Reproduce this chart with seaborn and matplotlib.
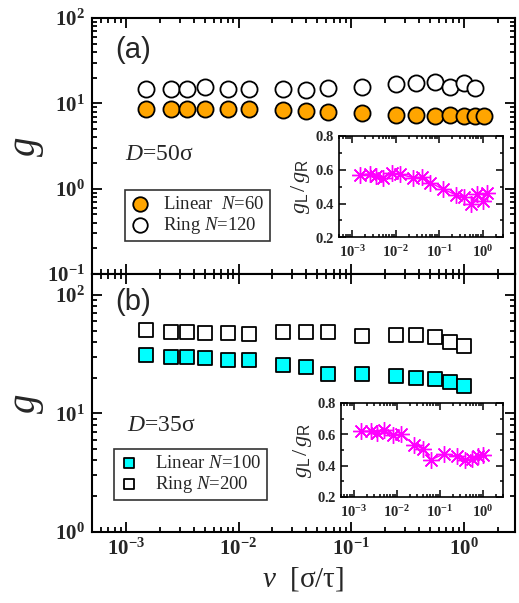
import numpy as np
import pandas as pd
import matplotlib
matplotlib.use("Agg")
import matplotlib.pyplot as plt
import seaborn as sns
from matplotlib.ticker import LogLocator, FuncFormatter, NullFormatter, MultipleLocator

# velocities (sigma/tau)
v_all = [0.0015, 0.0025, 0.0035, 0.005, 0.008, 0.0125, 0.025, 0.04, 0.0625,
         0.125, 0.25, 0.375, 0.55, 0.75, 1.0, 1.25, 1.5]

# panel (a), D = 50 sigma
g_lin_a = [8.66, 8.66, 8.66, 8.66, 8.66, 8.66, 8.34, 8.1, 7.9,
           7.77, 7.4, 7.4, 7.2, 7.4, 7.2, 7.2, 7.08]
g_ring_a = [14.9, 14.9, 14.9, 15.7, 14.6, 14.9, 14.6, 14.4, 15.3,
            15.7, 16.8, 17.2, 17.8, 15.7, 17.2, 15.3]
ratio_a = [0.570, 0.575, 0.563, 0.549, 0.579, 0.573, 0.553, 0.555, 0.523,
           0.484, 0.450, 0.437, 0.397, 0.456, 0.417, 0.464]

# panel (b), D = 35 sigma
g_lin_b = [31.1, 30.1, 29.8, 29.5, 28.2, 28.2, 25.6, 24.8, 21.5,
           21.4, 20.8, 19.8, 19.4, 18.2, 17.1]
g_ring_b = [50.6, 48.4, 48.9, 47.6, 47.6, 46.9, 48.4, 48.4, 48.8,
            44.7, 45.9, 45.9, 43.8, 40.3, 37.0]
ratio_b = [0.619, 0.619, 0.609, 0.626, 0.594, 0.602, 0.534, 0.508, 0.438,
           0.475, 0.460, 0.434, 0.443, 0.460, 0.466]

sns.set_style("ticks")
plt.rcParams['font.family'] = ['Liberation Serif', 'DejaVu Serif']
plt.rcParams['mathtext.fontset'] = 'custom'
plt.rcParams['mathtext.rm'] = 'Liberation Serif'
plt.rcParams['mathtext.it'] = 'Liberation Serif:italic'
plt.rcParams['mathtext.bf'] = 'Liberation Serif:bold'
plt.rcParams['mathtext.sf'] = 'Liberation Sans'

fig = plt.figure(figsize=(5.19, 6.03), dpi=100)
ax_a = fig.add_axes([0.1773, 0.5456, 0.815, 0.4245])
ax_b = fig.add_axes([0.1773, 0.1182, 0.815, 0.4274])
ins_a = fig.add_axes([0.6538, 0.6065, 0.316, 0.168])
ins_b = fig.add_axes([0.657, 0.1758, 0.313, 0.1559])

decade = FuncFormatter(lambda val, pos: r'$\mathbf{10^{%d}}$' % int(round(np.log10(val))))

# main panels
sns.scatterplot(x=v_all, y=g_lin_a, marker='o', s=135, color='#FFA500',
                edgecolor='black', linewidth=1.3, label=r'Linear  $N$=60', ax=ax_a, zorder=3)
sns.scatterplot(x=v_all[:16], y=g_ring_a, marker='o', s=135, color='white',
                edgecolor='black', linewidth=1.3, label=r'Ring $N$=120', ax=ax_a, zorder=3)
sns.scatterplot(x=v_all[:15], y=g_lin_b, marker='s', s=90, color='#00FFFF',
                edgecolor='black', linewidth=1.3, label=r'Linear $N$=100', ax=ax_b, zorder=3)
sns.scatterplot(x=v_all[:15], y=g_ring_b, marker='s', s=90, color='white',
                edgecolor='black', linewidth=1.3, label=r'Ring $N$=200', ax=ax_b, zorder=3)

for ax, ylim in [(ax_a, (0.1, 100)), (ax_b, (1, 150))]:
    ax.set_xscale('log')
    ax.set_yscale('log')
    ax.set_xlim(5e-4, 2.85)
    ax.set_ylim(*ylim)
    ax.xaxis.set_major_locator(LogLocator(base=10, numticks=10))
    ax.xaxis.set_minor_locator(LogLocator(base=10, subs=np.arange(2, 10), numticks=20))
    ax.yaxis.set_major_locator(LogLocator(base=10, numticks=10))
    ax.yaxis.set_minor_locator(LogLocator(base=10, subs=np.arange(2, 10), numticks=20))
    ax.xaxis.set_major_formatter(decade)
    ax.yaxis.set_major_formatter(decade)
    ax.xaxis.set_minor_formatter(NullFormatter())
    ax.yaxis.set_minor_formatter(NullFormatter())
    ax.tick_params(which='both', direction='in', top=True, right=True, width=1.3,
                   labelsize=15, color='black')
    ax.tick_params(which='major', length=7, pad=5)
    ax.tick_params(which='minor', length=3.5)
    for sp in ax.spines.values():
        sp.set_linewidth(1.5)
        sp.set_color('black')
    ax.set_ylabel('g', fontsize=28, fontstyle='italic')
    ax.yaxis.set_label_coords(-0.113, 0.5)

ax_a.tick_params(labelbottom=False)
ax_b.set_xlabel(r'$\nu$  [σ/τ]', fontsize=21, labelpad=4)

leg = ax_a.legend(loc='upper left', bbox_to_anchor=(0.078, 0.328), borderaxespad=0,
                  fontsize=13.5, frameon=True, fancybox=False, edgecolor='black',
                  handlelength=1.0, handletextpad=0.7, labelspacing=0.1,
                  borderpad=0.3, markerscale=0.9)
leg.get_frame().set_linewidth(1.2)
leg = ax_b.legend(loc='upper left', bbox_to_anchor=(0.052, 0.321), borderaxespad=0,
                  fontsize=13.5, frameon=True, fancybox=False, edgecolor='black',
                  handlelength=1.0, handletextpad=0.9, labelspacing=0.1,
                  borderpad=0.3, markerscale=0.75)
leg.get_frame().set_linewidth(1.2)

ax_a.text(0.054, 0.875, '(a)', transform=ax_a.transAxes, fontsize=21,
          family='Liberation Sans', va='center', ha='left')
ax_b.text(0.054, 0.891, '(b)', transform=ax_b.transAxes, fontsize=21,
          family='Liberation Sans', va='center', ha='left')
ax_a.text(0.078, 0.465, r'$D$=50σ', transform=ax_a.transAxes, fontsize=17,
          va='center', ha='left')
ax_b.text(0.082, 0.414, r'$D$=35σ', transform=ax_b.transAxes, fontsize=17,
          va='center', ha='left')

# insets: ratio linear / ring
for ins, v, r in [(ins_a, v_all[:16], ratio_a), (ins_b, v_all[:15], ratio_b)]:
    sns.lineplot(x=v, y=r, color='#FF00FF', linewidth=1.0, marker=(8, 2, 0),
                 markersize=12, markeredgewidth=1.0, markeredgecolor='#FF00FF',
                 errorbar=None, ax=ins)
    ins.set_xscale('log')
    ins.set_xlim(5e-4, 3)
    ins.set_ylim(0.2, 0.8)
    ins.xaxis.set_major_locator(LogLocator(base=10, numticks=10))
    ins.xaxis.set_minor_locator(LogLocator(base=10, subs=np.arange(2, 10), numticks=20))
    ins.xaxis.set_major_formatter(decade)
    ins.xaxis.set_minor_formatter(NullFormatter())
    ins.yaxis.set_major_locator(MultipleLocator(0.2))
    ins.yaxis.set_minor_locator(MultipleLocator(0.1))
    ins.yaxis.set_major_formatter(FuncFormatter(lambda val, pos: r'$\mathbf{%.1f}$' % val))
    ins.tick_params(which='both', direction='in', top=True, right=True, width=1.1,
                    labelsize=10.5, color='black')
    ins.tick_params(which='major', length=5, pad=3)
    ins.tick_params(which='minor', length=2.5)
    ins.tick_params(axis='x', pad=5)
    for sp in ins.spines.values():
        sp.set_linewidth(1.2)
        sp.set_color('black')
    ins.set_ylabel(r'$g_{\mathsf{L}}\,/\,g_{\mathsf{R}}$', fontsize=16, labelpad=2)
    ins.set_xlabel('')
    ins.set_facecolor('white')

fig.savefig('out.png', dpi=100)
